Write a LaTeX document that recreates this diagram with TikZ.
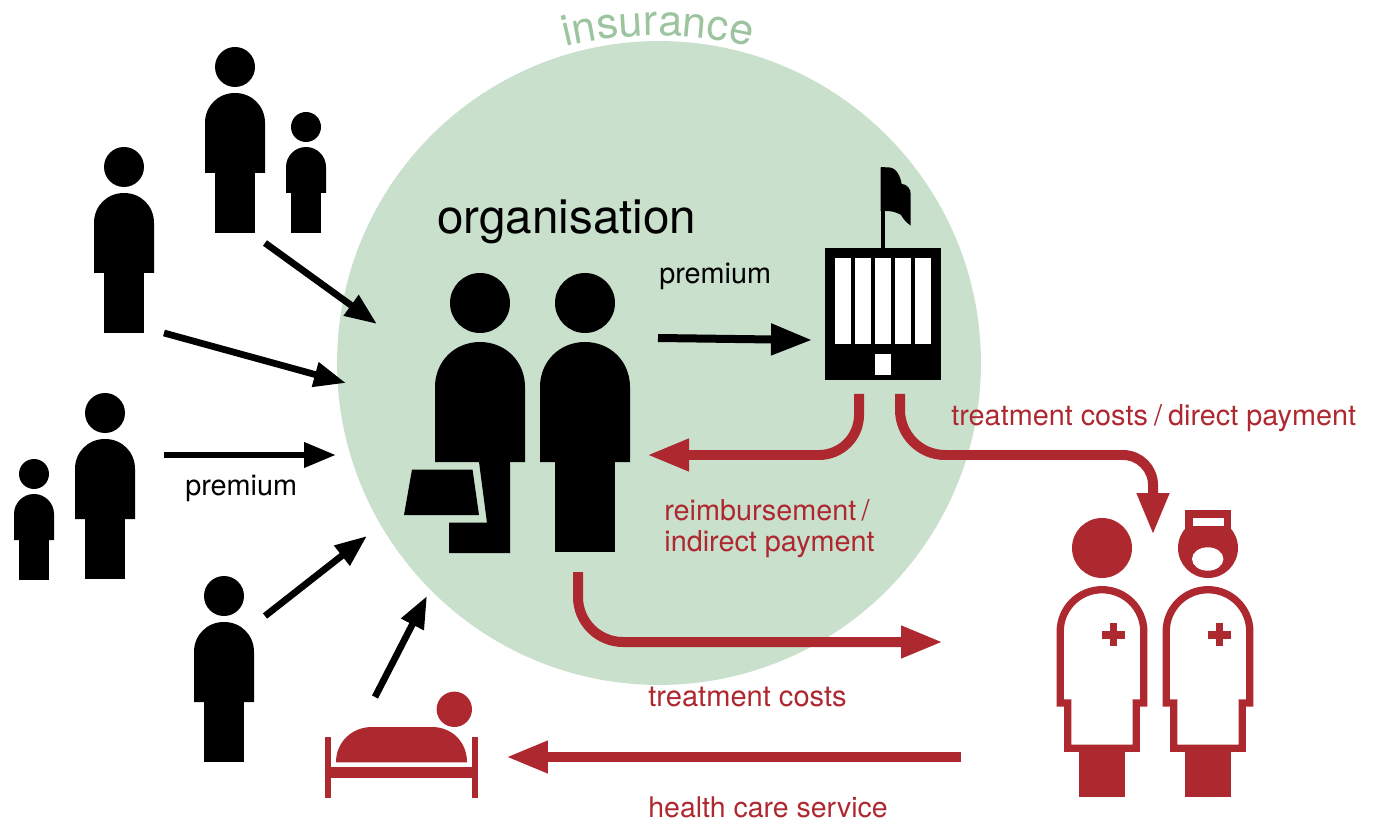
\documentclass[tikz,border=0pt]{standalone}
\usepackage{fontspec}
\usepackage{xcolor}
\setmainfont{TeX Gyre Heros}
\usetikzlibrary{arrows.meta,decorations.text}
\definecolor{insgreen}{HTML}{C9E0CC}
\definecolor{instext}{HTML}{9CC49F}
\definecolor{carered}{HTML}{AE2830}
\newcommand{\torsoshape}{
	\fill (0,0) circle [radius=20];
	\fill (-30,56) .. controls (-30,39) and (-17,26) .. (0,26) .. controls (17,26) and (30,39) .. (30,56) -- (30,106) -- (-30,106) -- cycle;
}
\tikzset{
	x=0.02cm, y=-0.02cm,
	label/.style={inner sep=0pt, anchor=base west, font=\fontsize{16.4}{17.6}\selectfont, align=left},
	redlabel/.style={label, text=carered},
	blackarrow/.style={-{Triangle[length=0.64cm,width=0.48cm]}, line width=0.135cm},
	redarrow/.style={-{Triangle[length=0.84cm,width=0.6cm]}, line width=0.2cm, carered},
	torso/.pic={
		\torsoshape
	},
	adult/.pic={
		\torsoshape
		\fill (-20,106) rectangle (20,166);
	},
	child/.pic={
		\fill (0,0) circle [radius=15];
		\fill (-20,40) .. controls (-20,29) and (-11,20) .. (0,20) .. controls (11,20) and (20,29) .. (20,40) -- (20,66) -- (-20,66) -- cycle;
		\fill (-15,66) rectangle (15,106);
	},
	doctor/.pic={
		\draw [line width=0.146cm, fill=white] (-41.8,83.5) .. controls (-41.8,60.4) and (-23.1,41.7) .. (0,41.7) .. controls (23.1,41.7) and (41.8,60.4) .. (41.8,83.5) -- (41.8,155) -- (34.2,155) -- (34.2,200.3) -- (-34.2,200.3) -- (-34.2,155) -- (-41.8,155) -- cycle;
		\fill (-22.8,204) rectangle (22.8,249);
		\fill (7.5,75.2) rectangle (15.1,98.2);
		\fill (-0.1,82.9) rectangle (22.9,90.5);
	},
}
\begin{document}
\begin{tikzpicture}
	\useasboundingbox (0,0) rectangle (1386,827);
	\node [circle, fill=insgreen, inner sep=0pt, minimum size=12.88cm] (ins) at (659,363) {};
	\path [decorate, decoration={text along path, text align=center, text={|\fontsize{24.5}{24.5}\selectfont\color{instext}|insurance}}] (543,53) .. controls (613,30) and (703,30) .. (773,53);
	
	\pic at (235,67) {adult};
	\pic at (306,127) {child};
	\pic at (124,167) {adult};
	\pic at (105,413) {adult};
	\pic at (34,474) {child};
	\pic at (224,596) {adult};
	
	\pic [scale=1.5] at (480,303) {torso};
	\fill (479,462) -- (487,522.7) -- (449,522.7) -- (449,553) -- (510,553) -- (510,462) -- cycle;
	\fill (412,469.5) -- (472.5,469.5) -- (479,515) -- (404,515) -- cycle;
	\pic [scale=1.5] at (585,303) {adult};
	\node [inner sep=0pt, anchor=base west, font=\fontsize{27.1}{30}\selectfont] (org) at (437,234) {organisation};
	
	\fill (880.7,248) rectangle (885.3,167.3);
	\fill (880.7,167.3) -- (888,167.3) .. controls (896,167.3) and (900,175) .. (901.7,184) .. controls (907,184) and (910.7,189) .. (910.7,194) -- (910.7,225.7) .. controls (906,222) and (904,220) .. (901,215) .. controls (896,212) and (892,211) .. (885.3,211) -- (880.7,211) -- cycle;
	\fill (825,248) rectangle (941,380);
	\foreach \winx in {835,855,875,895,915} {
		\fill [white] (\winx,258) rectangle +(16,86);
	}
	\fill [white] (875,354) rectangle (891,375);
	
	\fill [carered] (454.3,709.3) circle [radius=17.7];
	\fill [carered] (336,762.3) .. controls (336,742) and (352,727) .. (372,727) -- (432,727) .. controls (452,727) and (467,742) .. (467,762.3) -- cycle;
	\fill [carered] (325,737) rectangle (331,797.7);
	\fill [carered] (472,737) rectangle (478,797.7);
	\fill [carered] (331,767) rectangle (472,777.7);
	
	\begin{scope}[carered]
		\pic at (1102,548) {doctor};
		\fill (1102,548) circle [radius=30];
		\pic at (1208,548) {doctor};
		\fill (1208,548) circle [radius=30];
		\fill (1185.3,510) rectangle (1230.7,535);
		\fill [white] (1192.7,518) rectangle (1224,526);
		\fill [white] (1207.7,559) ellipse [x radius=15.7, y radius=11.7];
	\end{scope}
	
	\coordinate (famA) at (265,243);
	\coordinate (insA) at (377,324);
	\coordinate (famB) at (164,333);
	\coordinate (insB) at (346,383);
	\coordinate (famC) at (164,455);
	\coordinate (insC) at (336,455);
	\coordinate (famD) at (265,616);
	\coordinate (insD) at (367,536);
	\coordinate (bedT) at (375,697);
	\coordinate (insE) at (427,596);
	\coordinate (orgR) at (658,338);
	\coordinate (bankL) at (812,340);
	\coordinate (bankS) at (859,394);
	\coordinate (orgS) at (647,455);
	\coordinate (bankT) at (900,394);
	\coordinate (bend) at (1040,455);
	\coordinate (docT) at (1153,535);
	\coordinate (orgB) at (578,572);
	\coordinate (docL) at (943,642);
	\coordinate (docB) at (961,757);
	\coordinate (bedR) at (506,757);
	
	\draw [blackarrow] (famA) -- (insA);
	\draw [blackarrow] (famB) -- (insB);
	\draw [blackarrow] (famC) -- (insC);
	\draw [blackarrow] (famD) -- (insD);
	\draw [blackarrow] (bedT) -- (insE);
	\draw [blackarrow, line width=0.16cm, -{Triangle[length=0.82cm,width=0.6cm]}] (orgR) -- (bankL);
	
	\draw [redarrow, rounded corners=0.8cm] (bankS) |- (orgS);
	\draw [redarrow] (bankT) [rounded corners=0.9cm] |- (bend) [rounded corners=0.6cm] -| (docT);
	\draw [redarrow, rounded corners=0.9cm] (orgB) |- (docL);
	\draw [redarrow] (docB) -- (bedR);
	
	\node [label] (premA) at (659,284) {premium};
	\node [label] (premB) at (185,495) {premium};
	\node [redlabel] (direct) at (951,425) {treatment costs\hspace{3.5pt}/\hspace{3.5pt}direct payment};
	\node [redlabel] (indirect) at (664,551) {reimbursement\hspace{3pt}/\\indirect payment};
	\node [redlabel, font=\fontsize{16.55}{17.6}\selectfont] (costs) at (648,706) {treatment costs};
	\node [redlabel, font=\fontsize{16.2}{17.6}\selectfont] (service) at (648,817) {health care service};
\end{tikzpicture}
\end{document}
